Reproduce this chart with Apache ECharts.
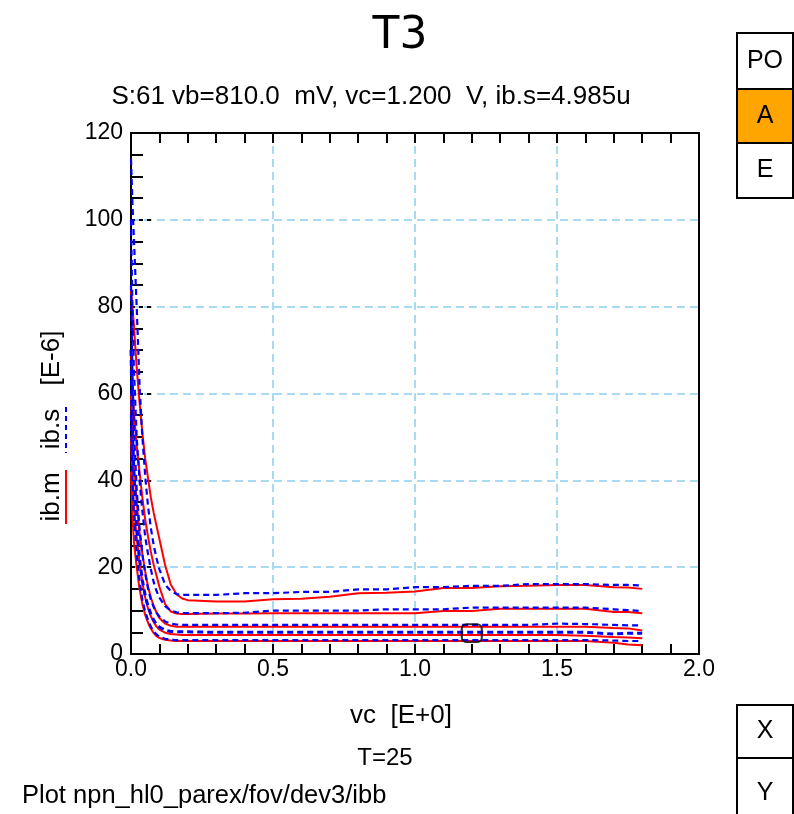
<!DOCTYPE html>
<html><head><meta charset="utf-8">
<script src="https://cdn.jsdelivr.net/npm/echarts@6/dist/echarts.min.js"></script>
<style>html,body{margin:0;padding:0;background:#fff}#c{width:794px;height:814px}</style>
</head><body><div id="c"></div>
<script>
// ---- data ----
const vc = [0, 0.005, 0.01, 0.02, 0.03, 0.04, 0.05, 0.06, 0.07, 0.08, 0.09, 0.1, 0.12, 0.14, 0.16, 0.18, 0.2, 0.3, 0.4, 0.5, 0.6, 0.7, 0.8, 0.9, 1.0, 1.1, 1.2, 1.3, 1.4, 1.5, 1.6, 1.7, 1.75, 1.8];
const ibm1 = [84, 80, 76, 66, 58, 51, 45, 40.5, 36, 32.5, 29.5, 26.5, 20.5, 16, 13.8, 12.8, 12.4, 12.1, 12.1, 12.6, 12.7, 13.2, 14.0, 14.1, 14.4, 15.2, 15.2, 15.6, 15.7, 15.9, 15.9, 15.4, 15.3, 15.0];
const ibs1 = [114, 104, 96, 80, 62, 50, 41, 34, 29, 25, 22, 19.5, 16, 14.5, 13.8, 13.6, 13.6, 13.6, 14.0, 14.0, 14.3, 14.3, 14.9, 14.9, 15.4, 15.4, 15.7, 15.7, 16.1, 16.1, 16.1, 15.9, 15.9, 15.8];
const ibm2 = [70, 62, 56, 48, 42, 36, 31, 27, 23.5, 20.5, 18, 15.5, 11.5, 9.8, 9.3, 9.2, 9.2, 9.3, 9.3, 9.4, 9.4, 9.4, 9.4, 9.4, 9.4, 9.9, 9.9, 10.4, 10.4, 10.4, 10.4, 9.7, 9.7, 9.4];
const ibs2 = [100, 80, 66, 50, 40, 33, 27, 23, 19.5, 16.5, 14.5, 13, 11, 10, 9.6, 9.4, 9.4, 9.4, 9.5, 10.0, 10.0, 10.0, 10.0, 10.3, 10.3, 10.3, 10.7, 10.7, 10.7, 10.7, 10.7, 10.3, 10.1, 9.9];
const ibm3 = [60, 50, 43, 35, 28, 23, 19, 15.5, 13, 11, 9.5, 8.3, 7.0, 6.5, 6.3, 6.3, 6.3, 6.3, 6.3, 6.3, 6.3, 6.3, 6.3, 6.3, 6.3, 6.3, 6.3, 6.3, 6.3, 6.3, 6.3, 6.0, 5.9, 5.4];
const ibs3 = [85, 65, 52, 38, 29, 23, 18.5, 15, 12.5, 10.8, 9.5, 8.6, 7.5, 7.0, 6.8, 6.7, 6.7, 6.7, 6.7, 6.7, 6.7, 6.7, 6.7, 6.7, 6.7, 6.7, 6.7, 6.7, 6.7, 7.0, 6.9, 6.7, 6.6, 6.6];
const ibm4 = [50, 40, 34, 27, 21, 16.5, 13, 10.5, 8.7, 7.3, 6.3, 5.6, 4.9, 4.6, 4.5, 4.4, 4.4, 4.4, 4.4, 4.4, 4.4, 4.4, 4.4, 4.4, 4.4, 4.4, 4.4, 4.4, 4.4, 4.4, 4.2, 3.9, 3.8, 3.6];
const ibs4 = [70, 52, 42, 30, 22, 17, 13.5, 11, 9.2, 7.8, 6.8, 6.2, 5.5, 5.2, 5.1, 5.1, 5.1, 5.0, 5.0, 5.0, 5.0, 5.0, 5.0, 5.0, 5.0, 5.0, 5.0, 5.0, 5.0, 5.0, 5.0, 4.6, 4.8, 4.8];
const ibm5 = [42, 32, 26, 20, 15, 11.5, 9, 7.2, 5.8, 4.8, 4.1, 3.7, 3.3, 3.1, 3.0, 3.0, 3.0, 3.0, 3.0, 3.0, 3.0, 3.0, 3.0, 3.0, 3.0, 3.0, 3.0, 3.0, 3.0, 3.0, 3.0, 2.6, 2.2, 2.0];
const ibs5 = [55, 40, 32, 23, 17, 12.5, 9.8, 7.8, 6.3, 5.2, 4.5, 4.0, 3.5, 3.3, 3.2, 3.2, 3.2, 3.2, 3.2, 3.2, 3.2, 3.2, 3.2, 3.2, 3.2, 3.2, 3.2, 3.2, 3.2, 3.2, 3.2, 3.1, 3.0, 3.0];
const markerPoint = [1.2, 4.8];
const xTickLabels = ['0.0', '0.5', '1.0', '1.5', '2.0'];
const yTickLabels = ['0', '20', '40', '60', '80', '100', '120'];

const titleText = 'T3';
const subText = 'S:61 vb=810.0  mV, vc=1.200  V, ib.s=4.985u';
const xName = 'vc  [E+0]';
const tempText = 'T=25';
const plotText = 'Plot npn_hl0_parex/fov/dev3/ibb';

// ---- chart ----
const FF = '"Liberation Sans", Arial, sans-serif';
const zip = a => vc.map((x, i) => [x, a[i]]);
const redS = a => ({ type: 'line', data: zip(a), showSymbol: false, symbol: 'none', animation: false, silent: true,
  lineStyle: { color: '#ff0000', width: 2 }, z: 3 });
const blueS = (a, w) => ({ type: 'line', data: zip(a), showSymbol: false, symbol: 'none', animation: false, silent: true,
  lineStyle: { color: '#0000ff', width: w || 2.2, type: [6, 4] }, z: 4 });

const chart = echarts.init(document.getElementById('c'), null, { renderer: 'canvas' });
const gridStyle = { color: '#8ccfef', type: [8, 5], width: 1.5 };
const tickStyle = { color: '#000', width: 2 };

const txt = (t, x, y, size, align, extra, family) => Object.assign({
  type: 'text', x: x, y: y, silent: true,
  style: { text: t, fill: '#000', font: size + 'px ' + (family || FF), align: align || 'center', verticalAlign: 'middle' }
}, extra || {});
const btn = (label, y, h, fill) => ([
  { type: 'rect', shape: { x: 737, y: y, width: 56, height: h }, style: { fill: fill, stroke: '#000', lineWidth: 2 }, silent: true },
  txt(label, 765, y + h / 2, 25, 'center')
]);

chart.setOption({
  animation: false,
  backgroundColor: '#fff',
  grid: { left: 131, right: 95, top: 133, bottom: 160, containLabel: false },
  xAxis: [{
    type: 'value', min: 0, max: 2, interval: 0.5, position: 'bottom',
    axisLine: { show: true, onZero: false, lineStyle: tickStyle },
    axisTick: { show: true, inside: true, length: 10, lineStyle: tickStyle },
    minorTick: { show: true, splitNumber: 5, length: 10, lineStyle: tickStyle },
    axisLabel: { color: '#000', fontSize: 23, fontFamily: FF, margin: 4,
      formatter: v => xTickLabels[Math.round(v / 0.5)] },
    splitLine: { show: true, lineStyle: gridStyle },
    name: xName, nameLocation: 'middle', nameGap: 49,
    nameTextStyle: { color: '#000', fontSize: 26, fontFamily: FF, padding: [0, 28, 0, 0] }
  }, {
    type: 'value', min: 0, max: 2, interval: 0.5, position: 'top',
    axisLine: { show: true, onZero: false, lineStyle: tickStyle },
    axisTick: { show: true, inside: true, length: 10, lineStyle: tickStyle },
    minorTick: { show: true, splitNumber: 5, length: 10, lineStyle: tickStyle },
    axisLabel: { show: false }, splitLine: { show: false }
  }],
  yAxis: [{
    type: 'value', min: 0, max: 120, interval: 20, position: 'left',
    axisLine: { show: true, onZero: false, lineStyle: tickStyle },
    axisTick: { show: true, inside: true, length: 20, lineStyle: { color: '#000', width: 2, type: [4, 4] } },
    minorTick: { show: true, splitNumber: 4, length: 12, lineStyle: tickStyle },
    axisLabel: { color: '#000', fontSize: 23, fontFamily: FF, margin: 8,
      formatter: v => yTickLabels[Math.round(v / 20)] },
    splitLine: { show: true, lineStyle: gridStyle }
  }, {
    type: 'value', min: 0, max: 120, interval: 20, position: 'right',
    axisLine: { show: true, onZero: false, lineStyle: tickStyle },
    axisTick: { show: false }, axisLabel: { show: false }, splitLine: { show: false }
  }],
  series: [
    redS(ibm1), blueS(ibs1),
    redS(ibm2), blueS(ibs2),
    redS(ibm3), blueS(ibs3),
    redS(ibm4), blueS(ibs4, 3),
    redS(ibm5), blueS(ibs5),
    { type: 'scatter', data: [markerPoint], symbol: 'roundRect', symbolSize: [20, 18], silent: true, z: 6,
      itemStyle: { color: 'rgba(0,0,0,0)', borderColor: '#000', borderWidth: 2 } }
  ],
  graphic: [
    txt(titleText, 400, 37, 44, 'center', null, '"DejaVu Sans"'),
    txt(subText, 371, 97, 26, 'center'),
    txt(tempText, 385, 758, 24, 'center'),
    txt(plotText, 22, 796, 25.5, 'left'),
    txt('ib.m', 52, 497, 26, 'center', { rotation: Math.PI / 2 }),
    txt('ib.s', 52, 429, 26, 'center', { rotation: Math.PI / 2 }),
    txt('[E-6]', 52, 358, 26, 'center', { rotation: Math.PI / 2 }),
    { type: 'line', shape: { x1: 66, y1: 470, x2: 66, y2: 524 }, style: { stroke: '#ff0000', lineWidth: 2 }, silent: true },
    { type: 'line', shape: { x1: 66, y1: 407, x2: 66, y2: 453 }, style: { stroke: '#0000ff', lineWidth: 2, lineDash: [5, 4] }, silent: true },
    ...btn('PO', 33, 56, '#ffffff'),
    ...btn('A', 89, 54, '#ffa500'),
    ...btn('E', 143, 55, '#ffffff'),
    ...btn('X', 705, 53, '#ffffff'),
    ...btn('Y', 758, 70, '#ffffff')
  ]
});
</script></body></html>
